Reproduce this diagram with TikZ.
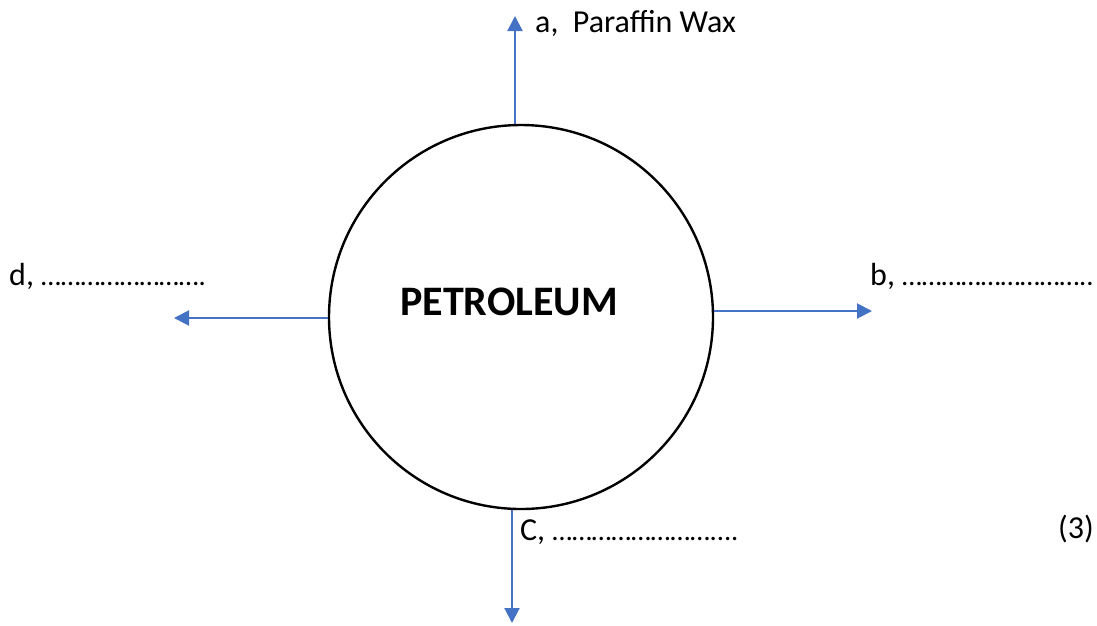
\documentclass[tikz,border=0pt]{standalone}
\usepackage{fontspec}
\setmainfont{Carlito}
\usetikzlibrary{arrows.meta}
\definecolor{arrblue}{HTML}{4472C4}
\newcommand{\dotsz}{\fontsize{28.5}{34}\selectfont}
\tikzset{
  arr/.style={draw=arrblue, line width=2pt, -{Triangle[length=15pt,width=15pt]}},
  lbl/.style={anchor=base west, inner sep=0pt, font=\fontsize{32}{38}\selectfont},
}
\begin{document}
\begin{tikzpicture}[x=1pt,y=-1pt]
\useasboundingbox (0,0) rectangle (1097,625);
\node[draw, circle, line width=2.4pt, minimum size=384pt, inner sep=0pt] (P) at (521,317) {};
\node[anchor=base west, inner sep=0pt, font=\fontsize{42}{48}\selectfont\bfseries] (T) at (400,315) {PETROLEUM};
\coordinate (ta) at (515,16);
\coordinate (la) at (174,318);
\coordinate (ra) at (872,311);
\coordinate (ba) at (512,623);
\draw[arr] (ta |- P.north) -- (ta);
\draw[arr] (P.west |- la) -- (la);
\draw[arr] (P.east |- ra) -- (ra);
\draw[arr] (ba |- P.south) -- (ba);
\node[lbl] (a) at (535,32) {a,\ \ Paraffin Wax};
\node[lbl] (d) at (9,285) {d, {\dotsz…………………….}};
\node[lbl] (b) at (870,285) {b, {\dotsz………………………..}};
\node[lbl] (c) at (520,540) {C, {\dotsz……………………....}};
\node[lbl] (n) at (1058,538) {(3)};
\end{tikzpicture}
\end{document}
